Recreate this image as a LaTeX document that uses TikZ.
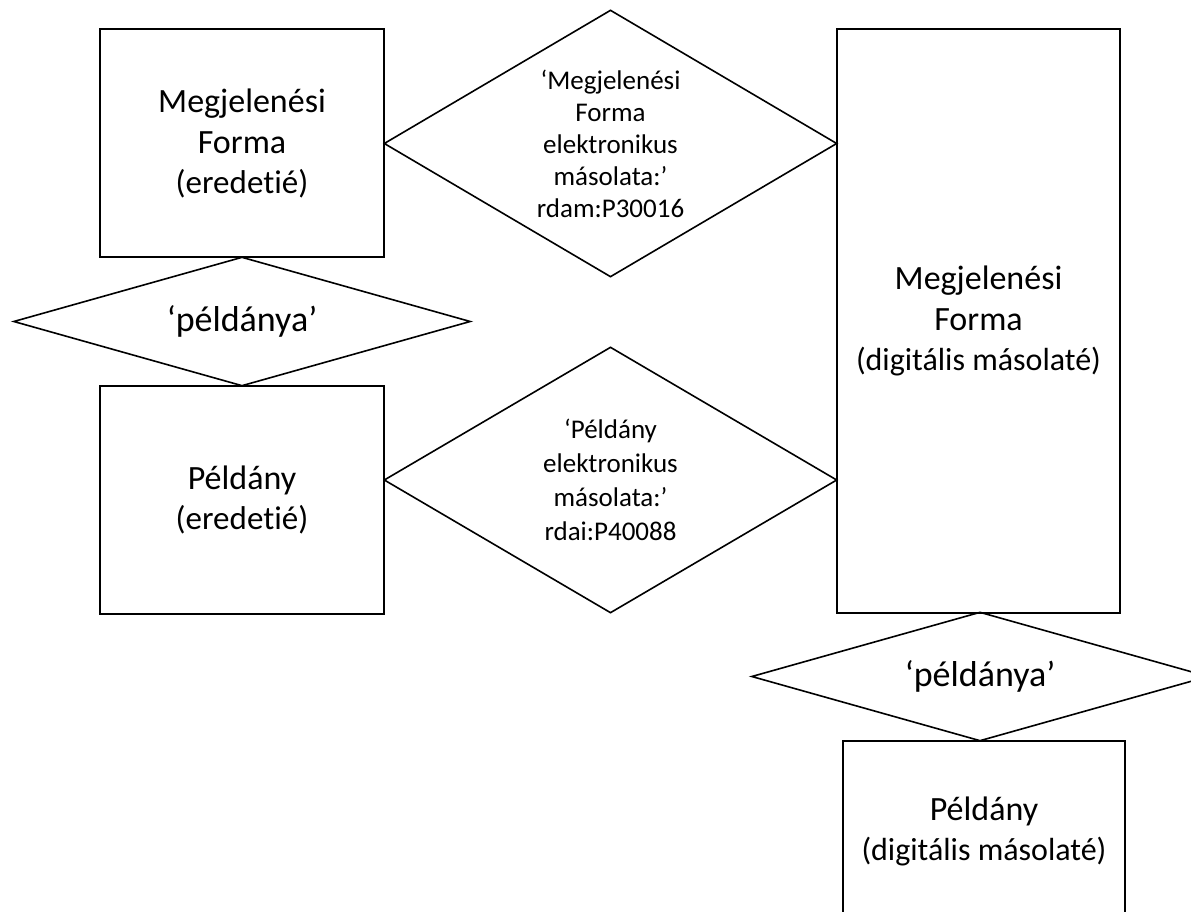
\documentclass[tikz,border=0pt]{standalone}
\usepackage{fontspec}
\setmainfont{Carlito}[Ligatures=NoCommon]
\usetikzlibrary{shapes.geometric}
\begin{document}
\begin{tikzpicture}[x=1pt,y=-1pt,
  entity/.style={draw,line width=1.6pt,rectangle,align=center,inner sep=0pt,font=\fontsize{34}{41}\selectfont},
  relation/.style={draw,line width=1.6pt,diamond,align=center,inner sep=0pt,font=\fontsize{27}{32}\selectfont}]
  \clip (0,0) rectangle (1191,912);
  % boxes
  \node [entity,minimum width=284pt,minimum height=228pt] (mforig) at (242,143) {Megjelenési\\Forma\\[-1pt]{\fontsize{33}{36}\selectfont(eredetié)}};
  \node [entity,minimum width=284pt,minimum height=228pt] (pldorig) at (242,500) {Példány\\[-1pt]{\fontsize{33}{36}\selectfont(eredetié)}};
  \node [entity,minimum width=283pt,minimum height=584pt] (mfdig) at (978.5,321) {Megjelenési\\Forma\\[-1pt]{\fontsize{32}{36}\selectfont(digitális másolaté)}};
  \node [entity,minimum width=282pt,minimum height=180pt] (plddig) at (984,831) {Példány\\[-1pt]{\fontsize{32}{36}\selectfont(digitális másolaté)}};
  % diamonds
  \node [relation,shape aspect=3.54,minimum width=457pt,minimum height=129pt] (peld1) at (242,321.5) {\fontsize{36}{40}\selectfont‘példánya’};
  \node [relation,shape aspect=3.54,minimum width=457pt,minimum height=129pt] (peld2) at (980,676.5) {\fontsize{36}{40}\selectfont‘példánya’};
  \node [relation,shape aspect=1.7,minimum width=453pt,minimum height=267pt] (mfcopy) at (610.5,143.5) {‘Megjelenési\\Forma\\elektronikus\\másolata:’\\rdam:P30016};
  \node [relation,shape aspect=1.7,minimum width=453pt,minimum height=266pt,font=\fontsize{27}{34}\selectfont] (pldcopy) at (610.5,480) {‘Példány\\elektronikus\\másolata:’\\rdai:P40088};
\end{tikzpicture}
\end{document}
